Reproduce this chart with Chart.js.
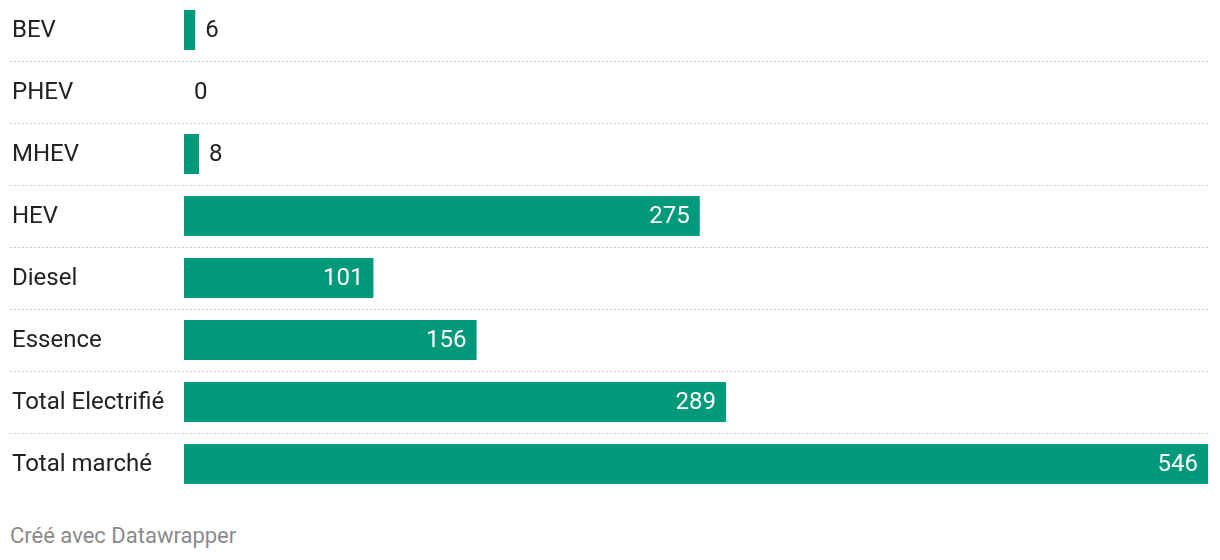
<!DOCTYPE html>
<html>
<head>
<meta charset="utf-8">
<script src="https://cdn.jsdelivr.net/npm/chart.js@4"></script>
<style>
    body { margin: 0; background: #fff; font-family: Roboto, sans-serif; }
    .wrap { position: relative; width: 1220px; height: 496px; margin-top: -1px; }
    .footer { position: absolute; left: 10px; top: 523px; font-size: 22px; color: #8a8a8a; }
</style>
</head>
<body>
<div class="wrap"><canvas id="chart1"></canvas></div>
<div class="footer">Créé avec Datawrapper</div>
<script>
const categories = ["BEV", "PHEV", "MHEV", "HEV", "Diesel", "Essence", "Total Electrifié", "Total marché"];
const values = [6, 0, 8, 275, 101, 156, 289, 546];

const barColor = "#00997a";

// category labels and dotted separators, drawn on the left
const rowDecor = {
    id: "rowDecor",
    beforeDatasetsDraw(chart) {
        const ctx = chart.ctx;
        const y = chart.scales.y;
        const right = chart.chartArea.right;
        ctx.save();
        ctx.strokeStyle = "#c4c4c4";
        ctx.lineWidth = 1;
        ctx.setLineDash([2, 2]);
        for (let i = 0; i < categories.length - 1; i++) {
            const py = Math.round((y.getPixelForValue(i) + y.getPixelForValue(i + 1)) / 2) + 0.5;
            ctx.beginPath();
            ctx.moveTo(10, py);
            ctx.lineTo(right, py);
            ctx.stroke();
        }
        ctx.font = "24px Roboto";
        ctx.fillStyle = "#222222";
        ctx.textAlign = "left";
        ctx.textBaseline = "middle";
        categories.forEach((c, i) => {
            ctx.fillText(c, 12, y.getPixelForValue(i) + 1);
        });
        ctx.restore();
    }
};

// value labels: white inside the bar, dark outside when the bar is short
const valueLabels = {
    id: "valueLabels",
    afterDatasetsDraw(chart) {
        const ctx = chart.ctx;
        const meta = chart.getDatasetMeta(0);
        ctx.save();
        ctx.font = "24px Roboto";
        ctx.textBaseline = "middle";
        meta.data.forEach((bar, i) => {
            const txt = String(values[i]);
            const w = ctx.measureText(txt).width;
            const len = bar.x - bar.base;
            if (len > w + 20) {
                ctx.fillStyle = "#ffffff";
                ctx.textAlign = "right";
                ctx.fillText(txt, bar.x - 10, bar.y + 1);
            } else {
                ctx.fillStyle = "#222222";
                ctx.textAlign = "left";
                ctx.fillText(txt, bar.x + 10, bar.y + 1);
            }
        });
        ctx.restore();
    }
};

new Chart(document.getElementById("chart1"), {
    type: "bar",
    data: {
        labels: categories,
        datasets: [{
            data: values,
            backgroundColor: barColor,
            categoryPercentage: 1,
            barPercentage: 40 / 62
        }]
    },
    options: {
        indexAxis: "y",
        responsive: true,
        maintainAspectRatio: false,
        animation: false,
        layout: { padding: { left: 184, right: 12, top: 0, bottom: 0 } },
        plugins: { legend: { display: false }, tooltip: { enabled: false } },
        scales: {
            x: { display: false, min: 0, max: 546 },
            y: { display: false }
        }
    },
    plugins: [rowDecor, valueLabels]
});
</script>
</body>
</html>
